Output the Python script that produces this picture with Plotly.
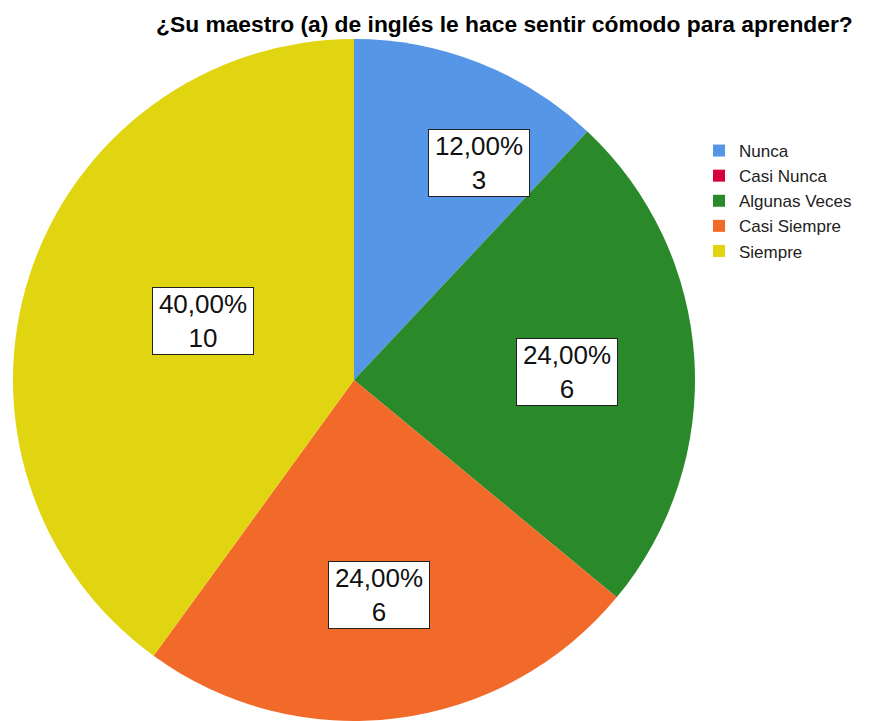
import plotly.graph_objects as go

categories = ["Nunca", "Casi Nunca", "Algunas Veces", "Casi Siempre", "Siempre"]
counts = [3, 0, 6, 6, 10]
colors = ["#5596E6", "#D6003A", "#2A8A2A", "#F26A2A", "#E1D512"]

W, H = 871, 721
cx, cy, r = 354, 381, 342  # pie centre / radius in pixels

# label box centres (pixels) for the non-empty slices
label_pos = {"Nunca": (479, 163), "Algunas Veces": (567, 372),
             "Casi Siempre": (379, 595), "Siempre": (203, 321)}

total = sum(counts)

fig = go.Figure(go.Pie(
    labels=categories,
    values=counts,
    marker=dict(colors=colors, line=dict(width=0)),
    sort=False,
    direction="clockwise",
    rotation=0,
    textinfo="none",
    hoverinfo="label+value+percent",
    domain=dict(x=[(cx - r) / W, (cx + r) / W],
                y=[max(0, (H - cy - r) / H), (H - cy + r) / H]),
))

annotations = []
for cat, n in zip(categories, counts):
    if n == 0:
        continue
    px, py = label_pos[cat]
    pct = f"{100 * n / total:.2f}".replace(".", ",")
    annotations.append(dict(
        x=px / W, y=1 - py / H, xref="paper", yref="paper",
        text=f"{pct}%<br>{n}", showarrow=False,
        font=dict(family="Liberation Sans, Arial", size=26, color="#111"),
        bgcolor="#FFFFFF", bordercolor="#222222", borderwidth=1, borderpad=0,
        width=100, height=66,
        align="center", valign="middle", xanchor="center", yanchor="middle",
    ))

annotations.append(dict(
    x=505 / W, y=1 - 24 / H, xref="paper", yref="paper",
    text="<b>¿Su maestro (a) de inglés le hace sentir cómodo para aprender?</b>",
    showarrow=False, xanchor="center", yanchor="middle",
    font=dict(family="Liberation Sans, Arial", size=22.8, color="#000"),
))

fig.update_layout(
    width=W, height=H,
    margin=dict(l=0, r=0, t=0, b=0),
    paper_bgcolor="white",
    showlegend=True,
    legend=dict(x=699 / W, y=1 - 133 / H, xanchor="left", yanchor="top",
                font=dict(family="Liberation Sans, Arial", size=17, color="#222"),
                tracegroupgap=0, itemwidth=30, bgcolor="rgba(0,0,0,0)"),
    annotations=annotations,
)

fig.write_html("out.html")
